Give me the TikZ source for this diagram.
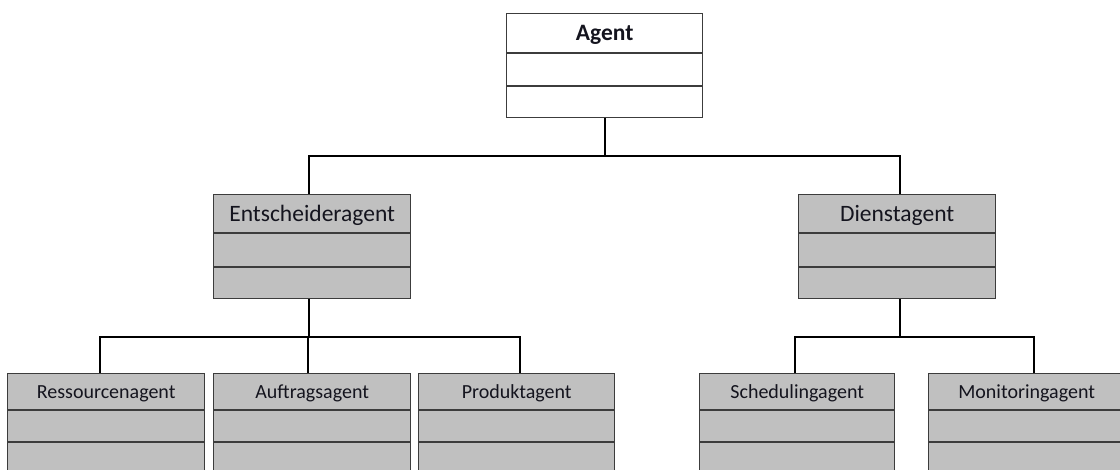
\documentclass[tikz,border=0pt]{standalone}
\usepackage{fontspec}
\setmainfont{Carlito}
\usetikzlibrary{calc}

\definecolor{boxgray}{HTML}{C0C0C0}
\definecolor{boxline}{HTML}{3C3C3C}
\definecolor{inktext}{HTML}{14141E}

\tikzset{
  classbox/.style={draw=boxline, line width=1.4pt, rectangle, inner sep=0pt, anchor=north west},
  divider/.style={draw=boxline, line width=1.4pt},
  classname/.style={text=inktext, inner sep=0pt, anchor=center},
  wire/.style={draw=black, line width=2pt, line join=miter},
}

% #1 name, #2 x, #3 top y, #4 width, #5 first divider, #6 second divider,
% #7 total height, #8 fill colour, #9 label (with its font style)
\newcommand\umlclass[9]{%
  \node[classbox, fill=#8, minimum width=#4pt, minimum height=#7pt] (#1) at (#2,#3) {};
  \draw[divider] ($(#1.north west)+(0,#5)$) -- ($(#1.north east)+(0,#5)$);
  \draw[divider] ($(#1.north west)+(0,#6)$) -- ($(#1.north east)+(0,#6)$);
  \node[classname] (#1-name) at ($(#1.north)+(0,#5/2+2)$) {#9};
}

\begin{document}
\begin{tikzpicture}[x=1pt, y=-1pt]
  \clip (0,0) rectangle (1120,470);
  \fill[white] (0,0) rectangle (1120,470);

  % root class
  \umlclass{agent}{506}{13}{196}{40}{73}{104}{white}{\fontsize{23.5}{28}\selectfont\bfseries Agent}

  % second level
  \umlclass{ent}{213}{194}{197}{39}{73}{104}{boxgray}{\fontsize{23.5}{28}\selectfont Entscheideragent}
  \umlclass{dienst}{798}{194}{197}{39}{73}{104}{boxgray}{\fontsize{23.5}{28}\selectfont Dienstagent}

  % third level
  \umlclass{res}{7}{373}{197}{37}{69}{110}{boxgray}{\fontsize{20}{24}\selectfont Ressourcenagent}
  \umlclass{auf}{213}{373}{197}{37}{69}{110}{boxgray}{\fontsize{20}{24}\selectfont Auftragsagent}
  \umlclass{prod}{418}{373}{196}{37}{69}{110}{boxgray}{\fontsize{20}{24}\selectfont Produktagent}
  \umlclass{sched}{699}{373}{195}{37}{69}{110}{boxgray}{\fontsize{20}{24}\selectfont Schedulingagent}
  \umlclass{mon}{928}{373}{196}{37}{69}{110}{boxgray}{\fontsize{20}{24}\selectfont Monitoringagent}

  % inheritance tree
  \coordinate (j0) at ($(agent.south)+(0,38)$);
  \draw[wire] (agent.south) -- (j0);
  \draw[wire] (j0) -| ($(ent.north)+(-3,0)$);
  \draw[wire] (j0) -| ($(dienst.north)+(3,0)$);

  \coordinate (j1) at ($(ent.south)+(-3,38)$);
  \draw[wire] ($(ent.south)+(-3,0)$) -- (j1);
  \draw[wire] (j1) -| ($(res.north)+(-6,0)$);
  \draw[wire] (j1) -| ($(auf.north)+(-4,0)$);
  \draw[wire] (j1) -| ($(prod.north)+(3,0)$);

  \coordinate (j2) at ($(dienst.south)+(3,38)$);
  \draw[wire] ($(dienst.south)+(3,0)$) -- (j2);
  \draw[wire] (j2) -| ($(sched.north)+(-2,0)$);
  \draw[wire] (j2) -| ($(mon.north)+(7,0)$);
\end{tikzpicture}
\end{document}
